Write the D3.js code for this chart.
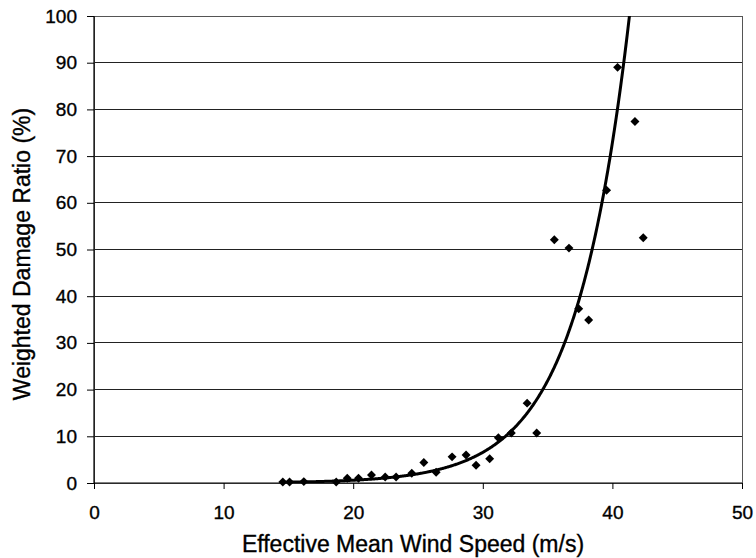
<!DOCTYPE html>
<html>
<head>
<meta charset="utf-8">
<script src="https://cdn.jsdelivr.net/npm/d3@7"></script>
<style>
  html, body { margin: 0; padding: 0; background: #fff; }
  svg { display: block; }
  text { font-family: "Liberation Sans", Arial, Helvetica, sans-serif; fill: #000; }
</style>
</head>
<body>
<svg id="chart" width="756" height="558"></svg>
<script>
// ---- data ----
const windSpeed = [14.57, 15.09, 16.19, 18.69, 19.54, 20.41, 21.41, 22.47, 23.31, 24.52,
                   25.45, 26.40, 27.63, 28.71, 29.48, 30.53, 31.20, 32.20, 33.42, 34.16,
                   35.52, 36.65, 37.40, 38.17, 39.55, 40.40, 41.74, 42.38];
const damageRatio = [0.2, 0.2, 0.3, 0.2, 1.0, 1.0, 1.7, 1.3, 1.3, 2.1,
                     4.4, 2.3, 5.6, 6.0, 3.8, 5.2, 9.7, 10.7, 17.1, 10.7,
                     52.1, 50.3, 37.3, 34.9, 62.7, 89.0, 77.4, 52.5];
// exponential trendline y = a * exp(b * x)
const trendCoef = [0.0048, 0.2407];
const trendRange = [14.5, 42];
const xTicks = [0, 10, 20, 30, 40, 50];
const yTicks = [0, 10, 20, 30, 40, 50, 60, 70, 80, 90, 100];
const xTitle = "Effective Mean Wind Speed (m/s)";
const yTitle = "Weighted Damage Ratio (%)";

// ---- layout ----
const W = 756, H = 558;
const m = { left: 94, right: 14, top: 16, bottom: 75 };
const svg = d3.select("#chart");

const x = d3.scaleLinear().domain([0, 50]).range([m.left, W - m.right]);
const y = d3.scaleLinear().domain([0, 100]).range([H - m.bottom, m.top]);

// gridlines
svg.append("g").selectAll("line").data(yTicks.filter(d => d > 0 && d < 100)).join("line")
  .attr("x1", x(0)).attr("x2", x(50))
  .attr("y1", d => y(d)).attr("y2", d => y(d))
  .attr("stroke", "#222").attr("stroke-width", 1).attr("shape-rendering", "crispEdges");

// plot border (top/right)
svg.append("rect")
  .attr("x", x(0)).attr("y", y(100))
  .attr("width", x(50) - x(0)).attr("height", y(0) - y(100))
  .attr("fill", "none").attr("stroke", "#555").attr("stroke-width", 1)
  .attr("shape-rendering", "crispEdges");

// axes
const xAxis = d3.axisBottom(x).tickValues(xTicks).tickSize(6).tickPadding(17).tickFormat(d3.format("d"));
const yAxis = d3.axisLeft(y).tickValues(yTicks).tickSize(7).tickPadding(10).tickFormat(d3.format("d"));

const gx = svg.append("g").attr("transform", `translate(0,${y(0)})`).call(xAxis);
const gy = svg.append("g").attr("transform", `translate(${x(0)},0)`).call(yAxis);
[gx, gy].forEach(g => {
  g.select(".domain").attr("stroke", "#000").attr("stroke-width", 1.2);
  g.selectAll(".tick line").attr("stroke", "#000");
  g.selectAll(".tick text").attr("font-size", 19).attr("fill", "#000")
    .attr("stroke", "#000").attr("stroke-width", 0.35)
    .attr("font-family", "'Liberation Sans', Arial, sans-serif");
});
gx.select(".domain").attr("d", `M${x(0)},0H${x(50)}`);
gy.select(".domain").attr("d", `M0,${y(0)}V${y(100)}`);

// clip
svg.append("clipPath").attr("id", "clip").append("rect")
  .attr("x", x(0)).attr("y", y(100)).attr("width", x(50) - x(0)).attr("height", y(0) - y(100));

// trendline
const trendX = d3.range(trendRange[0], trendRange[1], 0.05);
const line = d3.line().x(d => x(d)).y(d => y(trendCoef[0] * Math.exp(trendCoef[1] * d)));
svg.append("path").datum(trendX)
  .attr("clip-path", "url(#clip)")
  .attr("d", line).attr("fill", "none").attr("stroke", "#000").attr("stroke-width", 3);

// points (diamonds)
const pts = windSpeed.map((v, i) => [v, damageRatio[i]]);
const sym = d3.symbol().type(d3.symbolSquare).size(40);
svg.append("g").selectAll("path").data(pts).join("path")
  .attr("d", sym)
  .attr("transform", d => `translate(${x(d[0])},${y(d[1])}) rotate(45)`)
  .attr("fill", "#000");

// titles
svg.append("text")
  .attr("x", (x(0) + x(50)) / 2 - 5).attr("y", 552)
  .attr("text-anchor", "middle").attr("font-size", 23)
  .attr("stroke", "#000").attr("stroke-width", 0.35)
  .text(xTitle);
svg.append("text")
  .attr("transform", `translate(30,254) rotate(-90)`)
  .attr("text-anchor", "middle").attr("font-size", 23)
  .attr("stroke", "#000").attr("stroke-width", 0.35)
  .text(yTitle);
</script>
</body>
</html>
